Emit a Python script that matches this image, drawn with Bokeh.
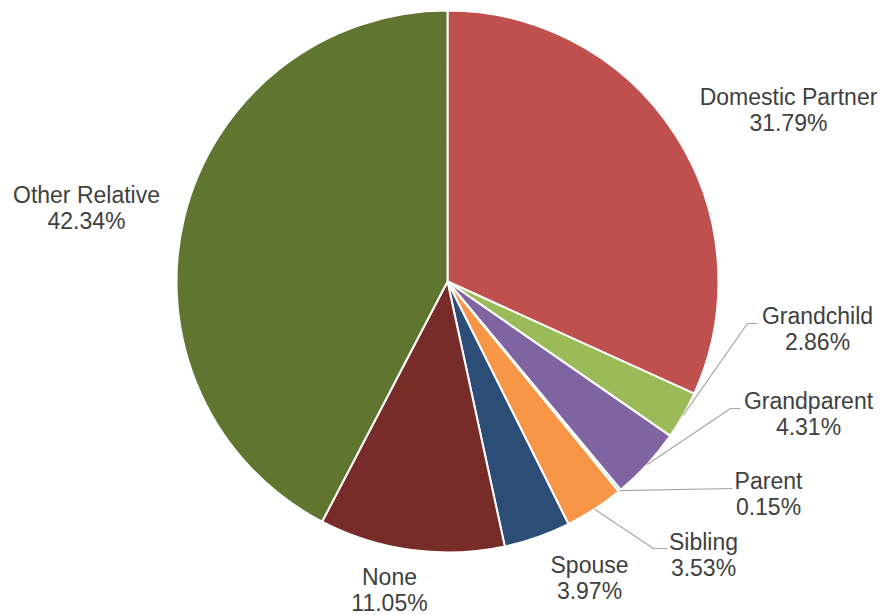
import math
from bokeh.plotting import figure
from bokeh.models import Range1d, ColumnDataSource
from bokeh.core.properties import value
from bokeh.embed import file_html
from bokeh.resources import INLINE

# ---- data ----
categories = ["Domestic Partner", "Grandchild", "Grandparent", "Parent",
              "Sibling", "Spouse", "None", "Other Relative"]
percents = [31.79, 2.86, 4.31, 0.15, 3.53, 3.97, 11.05, 42.34]
colors = ["#C0504D", "#9BBB59", "#8064A2", "#4BACC6",
          "#F79646", "#2C4D75", "#772C2A", "#5F7530"]

# ---- layout (page pixel coordinates) ----
W, H = 882, 615
CX, CY, R = 447, 281, 271
FONT = "Liberation Sans"
FS = 23
LINE_GAP = 26
TEXT_SHIFT = -9

# label centre x, first-line baseline y (page pixels)
label_pos = {
    "Domestic Partner": (788, 105),
    "Grandchild": (817, 324),
    "Grandparent": (808, 409),
    "Parent": (768, 489),
    "Sibling": (703, 550),
    "Spouse": (589, 573),
    "None": (389, 585),
    "Other Relative": (86, 203),
}
# leader elbows (page pixels) for the small slices
leaders = {
    "Grandchild": [(747, 323), (757, 323)],
    "Grandparent": [(730, 408), (740, 408)],
    "Parent": [(732, 488)],
    "Sibling": [(653, 548), (667, 548)],
}


def px(x):
    return x


def py(y):
    return H - y


p = figure(width=W, height=H, output_backend="svg", toolbar_location=None,
           x_range=Range1d(0, W), y_range=Range1d(0, H),
           min_border=0, outline_line_color=None, background_fill_color="white")
p.axis.visible = False
p.grid.visible = False

total = sum(percents)
starts, ends, mids = [], [], []
cum = 0.0
for v in percents:
    a0 = math.pi / 2 - 2 * math.pi * cum / total
    cum += v
    a1 = math.pi / 2 - 2 * math.pi * cum / total
    starts.append(a0)
    ends.append(a1)
    mids.append((a0 + a1) / 2)

src = ColumnDataSource(dict(start=starts, end=ends, color=colors,
                            x=[px(CX)] * len(percents), y=[py(CY)] * len(percents)))
p.wedge(x="x", y="y", radius=R, start_angle="start", end_angle="end",
        direction="clock", fill_color="color", line_color="white",
        line_width=2, source=src)

# leader lines
for name, pts in leaders.items():
    i = categories.index(name)
    sx = CX + R * math.cos(mids[i])
    sy = CY - R * math.sin(mids[i])
    xs = [px(sx)] + [px(a) for a, b in pts]
    ys = [py(sy)] + [py(b) for a, b in pts]
    p.line(xs, ys, line_color="#A6A6A6", line_width=1.2)

# labels
names_x, names_y, names = [], [], []
pct_x, pct_y, pcts = [], [], []
for name, v in zip(categories, percents):
    lx, ly = label_pos[name]
    ly += TEXT_SHIFT
    names_x.append(px(lx)); names_y.append(py(ly)); names.append(name)
    pct_x.append(px(lx)); pct_y.append(py(ly + LINE_GAP)); pcts.append(f"{v:.2f}%")

for xs, ys, ts in ((names_x, names_y, names), (pct_x, pct_y, pcts)):
    p.text(x=xs, y=ys, text=ts, text_font=value(FONT),
           text_font_size=f"{FS}px", text_color="#404040",
           text_align="center", text_baseline="alphabetic")

open("out.html", "w").write(file_html(p, INLINE))
